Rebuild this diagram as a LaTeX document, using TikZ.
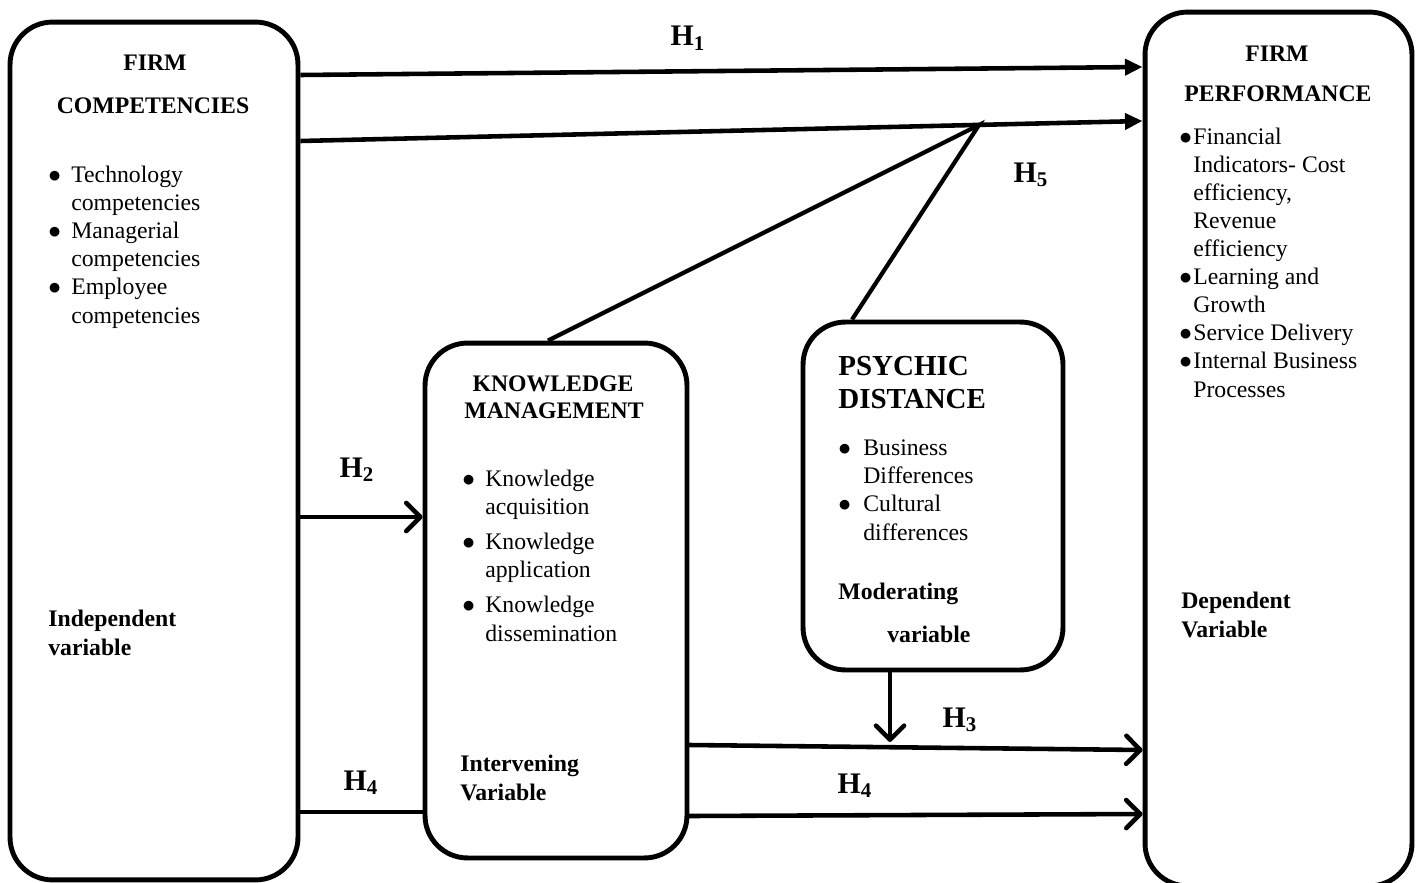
\documentclass[tikz,border=0pt]{standalone}
\usepackage{fontspec}
\setmainfont{Liberation Serif}
\usetikzlibrary{arrows.meta, positioning}

\newcommand{\bul}[1]{\makebox[#1][l]{$\bullet$}}

\begin{document}
\begin{tikzpicture}[x=0.02cm, y=-0.02cm,
  box/.style={draw, line width=2.8pt, rounded corners=0.85cm, inner sep=0pt},
  txt/.style={inner sep=0pt, align=left, anchor=base west, font=\fontsize{13.5}{16}\selectfont},
  lab/.style={txt, font=\fontsize{13.5}{16}\selectfont\bfseries},
  head/.style={inner sep=0pt, anchor=base, font=\fontsize{13.5}{16}\selectfont\bfseries},
  hyp/.style={inner sep=0pt, anchor=base, font=\fontsize{17}{20}\selectfont\bfseries},
  tri/.style={line width=2.6pt, -{Triangle[length=10pt,width=9pt]}},
  barb/.style={line width=2.6pt, line cap=round, -{Straight Barb[length=8pt,width=16pt,round]}},
  link/.style={line width=2.4pt}]
  \useasboundingbox (0,0) rectangle (1419,882);

  % the four boxes
  \node[box, minimum width=5.76cm, minimum height=17.16cm] (fc) at (154,451) {};
  \node[box, minimum width=5.34cm, minimum height=17.48cm] (fp) at (1278.5,449) {};
  \node[box, minimum width=5.24cm, minimum height=10.3cm] (km) at (556,600.5) {};
  \node[box, minimum width=5.2cm, minimum height=6.96cm] (pd) at (933,496) {};

  % firm competencies (multi-line nodes sit on their last baseline)
  \node[head] (fcfirm) at (155,71) {FIRM};
  \node[head] (fccomp) at (153,113) {COMPETENCIES};
  \node[txt] (fclist) at (48,323) {\bul{0.46cm}Technology\\\hspace*{0.46cm}competencies\\
    \bul{0.46cm}Managerial\\\hspace*{0.46cm}competencies\\
    \bul{0.46cm}Employee\\\hspace*{0.46cm}competencies};
  \node[lab] (fcvar) at (48,655) {Independent\\variable};

  % firm performance
  \node[head] (fpfirm) at (1277,62) {FIRM};
  \node[head] (fpperf) at (1278,102) {PERFORMANCE};
  \node[txt] (fplist) at (1179,397) {\bul{0.28cm}Financial\\\hspace*{0.28cm}Indicators- Cost\\
    \hspace*{0.28cm}efficiency,\\\hspace*{0.28cm}Revenue\\\hspace*{0.28cm}efficiency\\
    \bul{0.28cm}Learning and\\\hspace*{0.28cm}Growth\\
    \bul{0.28cm}Service Delivery\\
    \bul{0.28cm}Internal Business\\\hspace*{0.28cm}Processes};
  \node[lab] (fpvar) at (1181,637) {Dependent\\Variable};

  % knowledge management
  \node[head] (kmknow) at (553,391) {KNOWLEDGE};
  \node[head] (kmman) at (554,418) {MANAGEMENT};
  \node[txt] (kmlist) at (462,641) {\bul{0.46cm}Knowledge\\\hspace*{0.46cm}acquisition\\[4pt]
    \bul{0.46cm}Knowledge\\\hspace*{0.46cm}application\\[4pt]
    \bul{0.46cm}Knowledge\\\hspace*{0.46cm}dissemination};
  \node[lab] (kmvar) at (460,800) {Intervening\\Variable};

  % psychic distance
  \node[txt, font=\fontsize{16.5}{18.7}\selectfont\bfseries] (pdhead) at (838,408) {PSYCHIC\\DISTANCE};
  \node[txt] (pdlist) at (838,540) {\bul{0.5cm}Business\\\hspace*{0.5cm}Differences\\
    \bul{0.5cm}Cultural\\\hspace*{0.5cm}differences};
  \node[lab] (pdmod) at (838,599) {Moderating};
  \node[lab] (pdvar) at (887,642) {variable};

  % hypotheses
  \coordinate (apex) at (979,125);
  \coordinate (modtip) at (890,742);
  \draw[tri] (fc.east |- 0,75) -- (fp.west |- 0,67);
  \draw[tri] (fc.east |- 0,141) -- (fp.west |- 0,121);
  \draw[link] (km.north -| 548,0) -- (apex) -- (pd.north -| 852,0);
  \draw[barb] (fc.east |- 0,517) -- (km.west |- 0,517);
  \draw[link] (fc.east |- 0,812) -- (km.west |- 0,812);
  \draw[barb] (km.east |- 0,745) -- (fp.west |- 0,750);
  \draw[barb] (pd.south -| modtip) -- (modtip);
  \draw[barb] (km.east |- 0,816) -- (fp.west |- 0,814);

  \node[hyp] (h1) at (688,46) {H\textsubscript{1}};
  \node[hyp] (h2) at (357,477) {H\textsubscript{2}};
  \node[hyp] (h3) at (960,727) {H\textsubscript{3}};
  \node[hyp] (h4a) at (361,790) {H\textsubscript{4}};
  \node[hyp] (h4b) at (855,793) {H\textsubscript{4}};
  \node[hyp] (h5) at (1031,182) {H\textsubscript{5}};
\end{tikzpicture}
\end{document}
